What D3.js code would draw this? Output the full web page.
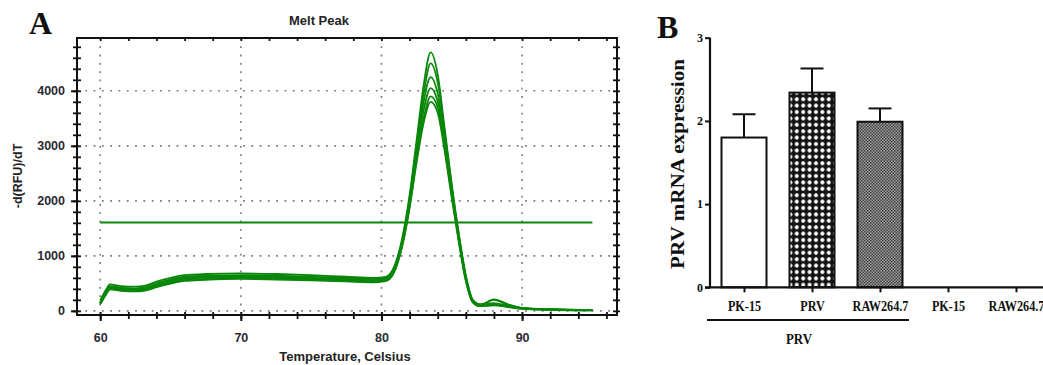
<!DOCTYPE html>
<html>
<head>
<meta charset="utf-8">
<script src="https://cdn.jsdelivr.net/npm/d3@7"></script>
<style>
  body { margin: 0; background: #fff; }
  svg { display: block; }
</style>
</head>
<body>
<svg width="1043" height="365"></svg>
<script>
(function(d3) {
    "use strict";

    // ---- panel A data (melt peak) ----
    var temps = [60, 60.4, 60.7, 61.5, 62.5, 63.2, 64, 65, 66, 67.5, 70, 72.5, 75, 77.5, 79.5, 80.3, 80.9, 81.5, 82, 82.5, 83, 83.5, 84, 84.5, 85, 85.5, 86, 86.5, 87, 88, 89, 90, 92, 95];
    var melt1 = [190, 380, 480, 450, 440, 460, 530, 600, 650, 670, 680, 670, 650, 620, 600, 620, 800, 1350, 2100, 3100, 4100, 4700, 4300, 3300, 2300, 1400, 650, 200, 120, 140, 90, 50, 30, 15];
    var melt2 = [160, 350, 450, 420, 410, 430, 500, 570, 620, 640, 650, 640, 620, 600, 580, 600, 780, 1300, 2050, 3000, 3950, 4500, 4150, 3250, 2250, 1380, 620, 190, 110, 200, 110, 55, 30, 15];
    var melt3 = [150, 330, 430, 400, 390, 410, 480, 550, 600, 620, 630, 620, 600, 580, 560, 580, 760, 1280, 2000, 2900, 3800, 4250, 3950, 3150, 2200, 1350, 600, 180, 100, 120, 80, 45, 25, 12];
    var melt4 = [140, 320, 420, 390, 380, 395, 460, 530, 580, 600, 610, 600, 585, 565, 545, 565, 740, 1250, 1950, 2850, 3650, 4050, 3800, 3050, 2150, 1300, 580, 170, 95, 210, 120, 50, 25, 12];
    var melt5 = [130, 300, 400, 375, 365, 380, 440, 510, 560, 580, 595, 585, 570, 550, 530, 550, 720, 1220, 1900, 2750, 3500, 3900, 3700, 2950, 2100, 1280, 560, 160, 90, 110, 75, 40, 20, 10];
    var melt6 = [120, 290, 390, 365, 355, 370, 430, 495, 545, 565, 580, 570, 555, 535, 520, 540, 700, 1200, 1870, 2700, 3420, 3800, 3600, 2900, 2050, 1250, 540, 150, 85, 100, 70, 35, 18, 8];
    var threshold = 1605,
        thresholdRange = [60, 95];
    var xTicksA = [60, 70, 80, 90],
        yTicksA = [0, 1000, 2000, 3000, 4000];

    // ---- panel B data (bar chart) ----
    var cells = ["PK-15", "PRV", "RAW264.7", "PK-15b", "RAW264.7b"];
    var cellLabels = ["PK-15", "PRV", "RAW264.7", "PK-15", "RAW264.7"];
    var expression = [1.80, 2.34, 1.99, 0, 0];
    var errors = [0.28, 0.29, 0.16, 0, 0];
    var fills = ["#fff", "url(#dots)", "url(#fine)", "none", "none"];
    var yTicksB = [0, 1, 2, 3];

    var svg = d3.select("svg"),
        defs = svg.append("defs"),
        green = "#0a870a",
        sans = "'Liberation Sans', Arial, sans-serif",
        serif = "'Liberation Serif', 'Times New Roman', serif";

    // patterns for the bars
    var dots = defs.append("pattern").attr("id", "dots").attr("patternUnits", "userSpaceOnUse")
        .attr("width", 6.4).attr("height", 6.4);
    dots.append("rect").attr("width", 6.4).attr("height", 6.4).attr("fill", "#111");
    dots.append("circle").attr("cx", 3.2).attr("cy", 3.2).attr("r", 2).attr("fill", "#fff");

    var fine = defs.append("pattern").attr("id", "fine").attr("patternUnits", "userSpaceOnUse")
        .attr("width", 3).attr("height", 3);
    fine.append("rect").attr("width", 3).attr("height", 3).attr("fill", "#9a9a9a");
    fine.append("rect").attr("width", 1.5).attr("height", 1.5).attr("fill", "#444");
    fine.append("rect").attr("x", 1.5).attr("y", 1.5).attr("width", 1.5).attr("height", 1.5).attr("fill", "#444");

    // ================= Panel A =================
    var x = d3.scaleLinear().domain([58.35, 96.75]).range([77, 617]),
        y = d3.scaleLinear().domain([-75, 4960]).range([315, 38]);

    var gA = svg.append("g");

    // dotted grid
    gA.append("g").selectAll("line").data(yTicksA).enter().append("line")
        .attr("x1", 77).attr("x2", 617)
        .attr("y1", function(d) { return y(d); }).attr("y2", function(d) { return y(d); })
        .attr("stroke", "#7a7a7a").attr("stroke-width", 1.6).attr("stroke-dasharray", "1.8,6.5");
    gA.append("g").selectAll("line").data(xTicksA).enter().append("line")
        .attr("y1", 38).attr("y2", 315)
        .attr("x1", function(d) { return x(d); }).attr("x2", function(d) { return x(d); })
        .attr("stroke", "#7a7a7a").attr("stroke-width", 1.6).attr("stroke-dasharray", "1.8,6.5");

    // melt curves
    var series = [melt1, melt2, melt3, melt4, melt5, melt6];
    var line = d3.line()
        .x(function(d, i) { return x(temps[i]); })
        .y(function(d) { return y(d); })
        .curve(d3.curveMonotoneX);
    gA.append("g").selectAll("path").data(series).enter().append("path")
        .attr("d", line)
        .attr("fill", "none").attr("stroke", green).attr("stroke-width", 1.8);

    // threshold
    gA.append("line")
        .attr("x1", x(thresholdRange[0])).attr("x2", x(thresholdRange[1]))
        .attr("y1", y(threshold)).attr("y2", y(threshold))
        .attr("stroke", green).attr("stroke-width", 2);

    // axes: crossing ticks made from paired axes
    var minorY = d3.range(0, 4801, 200),
        minorX = d3.range(60, 97, 2);

    function plain(sel) {
        sel.select(".domain").remove();
        sel.selectAll("line").attr("stroke", "#111").attr("stroke-width", 1.8);
    }

    gA.append("g").attr("transform", "translate(77,0)")
        .call(d3.axisLeft(y).tickValues(minorY).tickSize(4).tickFormat(""))
        .call(plain);
    gA.append("g").attr("transform", "translate(77,0)")
        .call(d3.axisRight(y).tickValues(minorY).tickSize(4).tickFormat(""))
        .call(plain);
    gA.append("g").attr("transform", "translate(617,0)")
        .call(d3.axisLeft(y).tickValues(minorY).tickSize(4).tickFormat(""))
        .call(plain);
    gA.append("g").attr("transform", "translate(617,0)")
        .call(d3.axisRight(y).tickValues(minorY).tickSize(3).tickFormat(""))
        .call(plain);
    gA.append("g").attr("transform", "translate(0,315)")
        .call(d3.axisBottom(x).tickValues(minorX).tickSize(4).tickFormat(""))
        .call(plain);
    gA.append("g").attr("transform", "translate(0,315)")
        .call(d3.axisTop(x).tickValues(minorX).tickSize(3).tickFormat(""))
        .call(plain);
    gA.append("g").attr("transform", "translate(0,38)")
        .call(d3.axisBottom(x).tickValues(minorX).tickSize(3).tickFormat(""))
        .call(plain);

    // labelled axes
    var yAxisA = gA.append("g").attr("transform", "translate(77,0)")
        .call(d3.axisLeft(y).tickValues(yTicksA).tickSize(6).tickPadding(6).tickFormat(d3.format("d")));
    yAxisA.select(".domain").remove();
    yAxisA.selectAll("line").attr("stroke", "#111").attr("stroke-width", 2);
    yAxisA.selectAll("text").attr("font-family", sans).attr("font-weight", "bold")
        .attr("font-size", 12.5).attr("fill", "#2a2a33");

    var xAxisA = gA.append("g").attr("transform", "translate(0,315)")
        .call(d3.axisBottom(x).tickValues(xTicksA).tickSize(6).tickPadding(12).tickFormat(d3.format("d")));
    xAxisA.select(".domain").remove();
    xAxisA.selectAll("line").attr("stroke", "#111").attr("stroke-width", 2);
    xAxisA.selectAll("text").attr("font-family", sans).attr("font-weight", "bold")
        .attr("font-size", 12.5).attr("fill", "#2a2a33");

    // frame
    gA.append("rect").attr("x", 77).attr("y", 38).attr("width", 540).attr("height", 277)
        .attr("fill", "none").attr("stroke", "#111").attr("stroke-width", 2);

    // texts
    gA.append("text").attr("x", 319).attr("y", 25).attr("text-anchor", "middle")
        .attr("font-family", sans).attr("font-weight", "bold").attr("font-size", 13)
        .attr("fill", "#222").text("Melt Peak");
    gA.append("text").attr("x", 345).attr("y", 361).attr("text-anchor", "middle")
        .attr("font-family", sans).attr("font-weight", "bold").attr("font-size", 13)
        .attr("fill", "#222").text("Temperature, Celsius");
    gA.append("text").attr("transform", "translate(22,176) rotate(-90)").attr("text-anchor", "middle")
        .attr("font-family", sans).attr("font-weight", "bold").attr("font-size", 12.5)
        .attr("fill", "#222").text("-d(RFU)/dT");
    gA.append("text").attr("x", 29).attr("y", 34)
        .attr("font-family", serif).attr("font-weight", "bold").attr("font-size", 32)
        .attr("fill", "#111").text("A");

    // ================= Panel B =================
    var xb = d3.scalePoint().domain(cells).range([710, 1050]).padding(0.5),
        yb = d3.scaleLinear().domain([0, 3]).range([287.3, 37.7]),
        barW = 45;

    var gB = svg.append("g");

    var barData = cells.map(function(c, i) {
        return { cell: c, value: expression[i], err: errors[i], fill: fills[i] };
    }).filter(function(d) { return d.value > 0; });

    // error bars
    var eb = gB.append("g").selectAll("g").data(barData).enter().append("g");
    eb.append("line")
        .attr("x1", function(d) { return xb(d.cell); }).attr("x2", function(d) { return xb(d.cell); })
        .attr("y1", function(d) { return yb(d.value); })
        .attr("y2", function(d) { return yb(d.value + d.err); })
        .attr("stroke", "#111").attr("stroke-width", 2);
    eb.append("line")
        .attr("x1", function(d) { return xb(d.cell) - 11.5; }).attr("x2", function(d) { return xb(d.cell) + 11.5; })
        .attr("y1", function(d) { return yb(d.value + d.err); })
        .attr("y2", function(d) { return yb(d.value + d.err); })
        .attr("stroke", "#111").attr("stroke-width", 2);

    gB.append("g").selectAll("rect").data(barData).enter().append("rect")
        .attr("x", function(d) { return xb(d.cell) - barW / 2; })
        .attr("y", function(d) { return yb(d.value); })
        .attr("width", barW)
        .attr("height", function(d) { return yb(0) - yb(d.value); })
        .attr("fill", function(d) { return d.fill; })
        .attr("stroke", "#111").attr("stroke-width", 2);

    var yAxisB = gB.append("g").attr("transform", "translate(710,0)")
        .call(d3.axisLeft(yb).tickValues(yTicksB).tickSize(5).tickPadding(2).tickFormat(d3.format("d")));
    yAxisB.select(".domain").attr("stroke", "#111").attr("stroke-width", 2.2).attr("d", "M0,37.7V287.3");
    yAxisB.selectAll("line").attr("stroke", "#111").attr("stroke-width", 2);
    yAxisB.selectAll("text").attr("font-family", serif).attr("font-weight", "bold")
        .attr("font-size", 12).attr("fill", "#111");

    var xAxisB = gB.append("g").attr("transform", "translate(0,287.3)")
        .call(d3.axisBottom(xb).tickSize(5).tickPadding(8)
            .tickFormat(function(d, i) { return cellLabels[i]; }));
    xAxisB.select(".domain").attr("stroke", "#111").attr("stroke-width", 2.2).attr("d", "M705,0H1043");
    xAxisB.selectAll("line").attr("stroke", "#111").attr("stroke-width", 2);
    xAxisB.selectAll("text").attr("font-family", serif).attr("font-weight", "bold")
        .attr("font-size", 14.5).attr("transform", "scale(0.84,1)").attr("fill", "#111");

    // group bracket under the PRV-infected cells
    gB.append("line").attr("x1", 707).attr("x2", 909).attr("y1", 320).attr("y2", 320)
        .attr("stroke", "#111").attr("stroke-width", 2);
    gB.append("text").attr("transform", "translate(799,344) scale(0.86,1)").attr("text-anchor", "middle")
        .attr("font-family", serif).attr("font-weight", "bold").attr("font-size", 15)
        .attr("fill", "#111").text("PRV");

    gB.append("text").attr("transform", "translate(684,164) rotate(-90)").attr("text-anchor", "middle")
        .attr("font-family", serif).attr("font-weight", "bold").attr("font-size", 19)
        .attr("textLength", 210).attr("lengthAdjust", "spacingAndGlyphs")
        .attr("fill", "#111").text("PRV mRNA expression");
    gB.append("text").attr("x", 657).attr("y", 38)
        .attr("font-family", serif).attr("font-weight", "bold").attr("font-size", 32)
        .attr("fill", "#111").text("B");

}(d3));
</script>
</body>
</html>
